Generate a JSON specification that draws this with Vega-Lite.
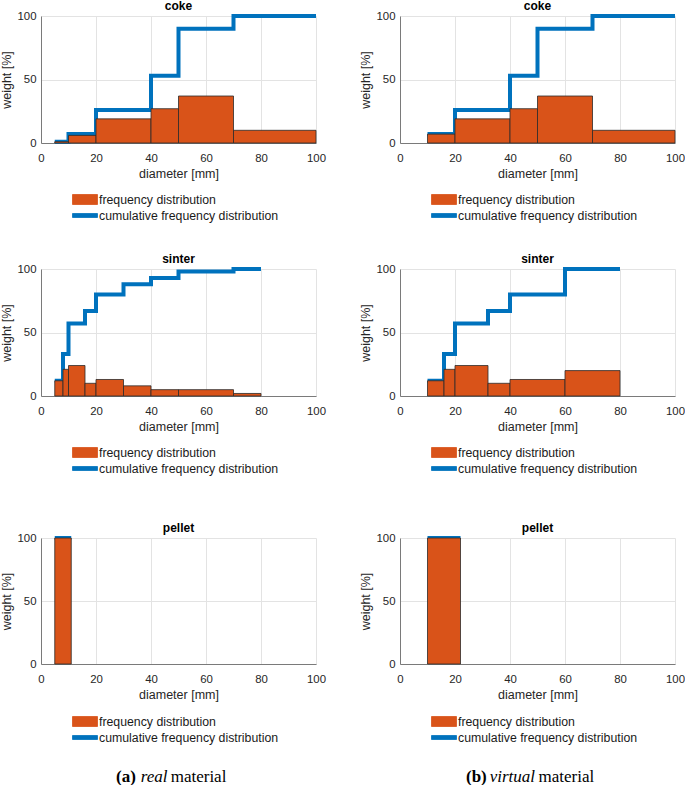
{
  "$schema": "https://vega.github.io/schema/vega-lite/v6.json",
  "padding": {"left": 0, "top": 0, "right": 0, "bottom": 0},
  "background": "white",
  "datasets": {
    "bins": [
      {"material": "coke", "kind": "real", "lo": 5, "hi": 10, "w": 1},
      {"material": "coke", "kind": "real", "lo": 10, "hi": 20, "w": 6},
      {"material": "coke", "kind": "real", "lo": 20, "hi": 40, "w": 19},
      {"material": "coke", "kind": "real", "lo": 40, "hi": 50, "w": 27},
      {"material": "coke", "kind": "real", "lo": 50, "hi": 70, "w": 37},
      {"material": "coke", "kind": "real", "lo": 70, "hi": 100, "w": 10},
      {"material": "coke", "kind": "virtual", "lo": 10, "hi": 20, "w": 7},
      {"material": "coke", "kind": "virtual", "lo": 20, "hi": 40, "w": 19},
      {"material": "coke", "kind": "virtual", "lo": 40, "hi": 50, "w": 27},
      {"material": "coke", "kind": "virtual", "lo": 50, "hi": 70, "w": 37},
      {"material": "coke", "kind": "virtual", "lo": 70, "hi": 100, "w": 10},
      {"material": "sinter", "kind": "real", "lo": 5, "hi": 8, "w": 12},
      {"material": "sinter", "kind": "real", "lo": 8, "hi": 10, "w": 21},
      {"material": "sinter", "kind": "real", "lo": 10, "hi": 16, "w": 24},
      {"material": "sinter", "kind": "real", "lo": 16, "hi": 20, "w": 10},
      {"material": "sinter", "kind": "real", "lo": 20, "hi": 30, "w": 13},
      {"material": "sinter", "kind": "real", "lo": 30, "hi": 40, "w": 8},
      {"material": "sinter", "kind": "real", "lo": 40, "hi": 50, "w": 5},
      {"material": "sinter", "kind": "real", "lo": 50, "hi": 70, "w": 5},
      {"material": "sinter", "kind": "real", "lo": 70, "hi": 80, "w": 2},
      {"material": "sinter", "kind": "virtual", "lo": 10, "hi": 16, "w": 12},
      {"material": "sinter", "kind": "virtual", "lo": 16, "hi": 20, "w": 21},
      {"material": "sinter", "kind": "virtual", "lo": 20, "hi": 32, "w": 24},
      {"material": "sinter", "kind": "virtual", "lo": 32, "hi": 40, "w": 10},
      {"material": "sinter", "kind": "virtual", "lo": 40, "hi": 60, "w": 13},
      {"material": "sinter", "kind": "virtual", "lo": 60, "hi": 80, "w": 20},
      {"material": "pellet", "kind": "real", "lo": 5, "hi": 11, "w": 100},
      {"material": "pellet", "kind": "virtual", "lo": 10, "hi": 22, "w": 100}
    ],
    "cum": [
      {"material": "coke", "kind": "real", "d": 5, "c": 1},
      {"material": "coke", "kind": "real", "d": 10, "c": 7},
      {"material": "coke", "kind": "real", "d": 20, "c": 26},
      {"material": "coke", "kind": "real", "d": 40, "c": 53},
      {"material": "coke", "kind": "real", "d": 50, "c": 90},
      {"material": "coke", "kind": "real", "d": 70, "c": 100},
      {"material": "coke", "kind": "real", "d": 100, "c": 100},
      {"material": "coke", "kind": "virtual", "d": 10, "c": 7},
      {"material": "coke", "kind": "virtual", "d": 20, "c": 26},
      {"material": "coke", "kind": "virtual", "d": 40, "c": 53},
      {"material": "coke", "kind": "virtual", "d": 50, "c": 90},
      {"material": "coke", "kind": "virtual", "d": 70, "c": 100},
      {"material": "coke", "kind": "virtual", "d": 100, "c": 100},
      {"material": "sinter", "kind": "real", "d": 5, "c": 12},
      {"material": "sinter", "kind": "real", "d": 8, "c": 33},
      {"material": "sinter", "kind": "real", "d": 10, "c": 57},
      {"material": "sinter", "kind": "real", "d": 16, "c": 67},
      {"material": "sinter", "kind": "real", "d": 20, "c": 80},
      {"material": "sinter", "kind": "real", "d": 30, "c": 88},
      {"material": "sinter", "kind": "real", "d": 40, "c": 93},
      {"material": "sinter", "kind": "real", "d": 50, "c": 98},
      {"material": "sinter", "kind": "real", "d": 70, "c": 100},
      {"material": "sinter", "kind": "real", "d": 80, "c": 100},
      {"material": "sinter", "kind": "virtual", "d": 10, "c": 12},
      {"material": "sinter", "kind": "virtual", "d": 16, "c": 33},
      {"material": "sinter", "kind": "virtual", "d": 20, "c": 57},
      {"material": "sinter", "kind": "virtual", "d": 32, "c": 67},
      {"material": "sinter", "kind": "virtual", "d": 40, "c": 80},
      {"material": "sinter", "kind": "virtual", "d": 60, "c": 100},
      {"material": "sinter", "kind": "virtual", "d": 80, "c": 100},
      {"material": "pellet", "kind": "real", "d": 5, "c": 100},
      {"material": "pellet", "kind": "real", "d": 11, "c": 100},
      {"material": "pellet", "kind": "virtual", "d": 10, "c": 100},
      {"material": "pellet", "kind": "virtual", "d": 22, "c": 100}
    ]
  },
  "vconcat": [
    {
      "vconcat": [
        {
          "vconcat": [
            {
              "hconcat": [
                {
                  "width": 275, "height": 127, "title": "coke",
                  "layer": [
                    {"data": {"name": "cum"}, "transform": [{"filter": "datum.material === 'coke' && datum.kind === 'real'"}],
                     "mark": {"type": "line", "interpolate": "step-after", "strokeWidth": 4},
                     "encoding": {
                       "x": {"field": "d", "type": "quantitative", "scale": {"domain": [0, 100]}, "axis": {"values": [0, 20, 40, 60, 80, 100], "title": "diameter [mm]"}},
                       "y": {"field": "c", "type": "quantitative", "scale": {"domain": [0, 100]}, "axis": {"values": [0, 50, 100], "title": "weight [%]"}},
                       "color": {"datum": "cumulative frequency distribution", "type": "nominal", "scale": {"domain": ["frequency distribution", "cumulative frequency distribution"], "range": ["#D95319", "#0072BD"]},
                         "legend": {"orient": "none", "legendX": 35.5, "legendY": 175, "title": null, "direction": "vertical", "symbolSize": 256, "labelOffset": 5.5, "rowPadding": 0, "padding": 0,
                           "encode": {"symbols": {"update": {"shape": {"signal": "datum.value === 'frequency distribution' ? 'M-1.5625,-0.625H1.5625V0.625H-1.5625Z' : 'M-1.5625,-0.25H1.5625V0.25H-1.5625Z'"}, "fill": {"signal": "datum.value === 'frequency distribution' ? '#D95319' : '#0072BD'"}, "stroke": {"signal": "datum.value === 'frequency distribution' ? '#333333' : '#0072BD'"}, "strokeWidth": {"value": 0.8}, "opacity": {"value": 1}}}}}}
                     }},
                    {"data": {"name": "bins"}, "transform": [{"filter": "datum.material === 'coke' && datum.kind === 'real'"}],
                     "mark": {"type": "rect", "stroke": "#2b2b2b", "strokeWidth": 0.8},
                     "encoding": {"x": {"field": "lo", "type": "quantitative"}, "x2": {"field": "hi"}, "y": {"field": "w", "type": "quantitative"}, "y2": {"datum": 0}, "color": {"datum": "frequency distribution", "type": "nominal"}}}
                  ]
                },
                {
                  "width": 275, "height": 127, "title": "coke",
                  "layer": [
                    {"data": {"name": "cum"}, "transform": [{"filter": "datum.material === 'coke' && datum.kind === 'virtual'"}],
                     "mark": {"type": "line", "interpolate": "step-after", "strokeWidth": 4},
                     "encoding": {
                       "x": {"field": "d", "type": "quantitative", "scale": {"domain": [0, 100]}, "axis": {"values": [0, 20, 40, 60, 80, 100], "title": "diameter [mm]"}},
                       "y": {"field": "c", "type": "quantitative", "scale": {"domain": [0, 100]}, "axis": {"values": [0, 50, 100], "title": "weight [%]"}},
                       "color": {"datum": "cumulative frequency distribution", "type": "nominal", "scale": {"domain": ["frequency distribution", "cumulative frequency distribution"], "range": ["#D95319", "#0072BD"]},
                         "legend": {"orient": "none", "legendX": 35.5, "legendY": 175, "title": null, "direction": "vertical", "symbolSize": 256, "labelOffset": 5.5, "rowPadding": 0, "padding": 0,
                           "encode": {"symbols": {"update": {"shape": {"signal": "datum.value === 'frequency distribution' ? 'M-1.5625,-0.625H1.5625V0.625H-1.5625Z' : 'M-1.5625,-0.25H1.5625V0.25H-1.5625Z'"}, "fill": {"signal": "datum.value === 'frequency distribution' ? '#D95319' : '#0072BD'"}, "stroke": {"signal": "datum.value === 'frequency distribution' ? '#333333' : '#0072BD'"}, "strokeWidth": {"value": 0.8}, "opacity": {"value": 1}}}}}}
                     }},
                    {"data": {"name": "bins"}, "transform": [{"filter": "datum.material === 'coke' && datum.kind === 'virtual'"}],
                     "mark": {"type": "rect", "stroke": "#2b2b2b", "strokeWidth": 0.8},
                     "encoding": {"x": {"field": "lo", "type": "quantitative"}, "x2": {"field": "hi"}, "y": {"field": "w", "type": "quantitative"}, "y2": {"datum": 0}, "color": {"datum": "frequency distribution", "type": "nominal"}}}
                  ]
                }
              ],
              "spacing": 84, "bounds": "flush",
              "resolve": {"scale": {"color": "independent"}, "legend": {"color": "independent"}}
            },
            {
              "hconcat": [
                {
                  "width": 275, "height": 127, "title": "sinter",
                  "layer": [
                    {"data": {"name": "cum"}, "transform": [{"filter": "datum.material === 'sinter' && datum.kind === 'real'"}],
                     "mark": {"type": "line", "interpolate": "step-after", "strokeWidth": 4},
                     "encoding": {
                       "x": {"field": "d", "type": "quantitative", "scale": {"domain": [0, 100]}, "axis": {"values": [0, 20, 40, 60, 80, 100], "title": "diameter [mm]"}},
                       "y": {"field": "c", "type": "quantitative", "scale": {"domain": [0, 100]}, "axis": {"values": [0, 50, 100], "title": "weight [%]"}},
                       "color": {"datum": "cumulative frequency distribution", "type": "nominal", "scale": {"domain": ["frequency distribution", "cumulative frequency distribution"], "range": ["#D95319", "#0072BD"]},
                         "legend": {"orient": "none", "legendX": 35.5, "legendY": 175, "title": null, "direction": "vertical", "symbolSize": 256, "labelOffset": 5.5, "rowPadding": 0, "padding": 0,
                           "encode": {"symbols": {"update": {"shape": {"signal": "datum.value === 'frequency distribution' ? 'M-1.5625,-0.625H1.5625V0.625H-1.5625Z' : 'M-1.5625,-0.25H1.5625V0.25H-1.5625Z'"}, "fill": {"signal": "datum.value === 'frequency distribution' ? '#D95319' : '#0072BD'"}, "stroke": {"signal": "datum.value === 'frequency distribution' ? '#333333' : '#0072BD'"}, "strokeWidth": {"value": 0.8}, "opacity": {"value": 1}}}}}}
                     }},
                    {"data": {"name": "bins"}, "transform": [{"filter": "datum.material === 'sinter' && datum.kind === 'real'"}],
                     "mark": {"type": "rect", "stroke": "#2b2b2b", "strokeWidth": 0.8},
                     "encoding": {"x": {"field": "lo", "type": "quantitative"}, "x2": {"field": "hi"}, "y": {"field": "w", "type": "quantitative"}, "y2": {"datum": 0}, "color": {"datum": "frequency distribution", "type": "nominal"}}}
                  ]
                },
                {
                  "width": 275, "height": 127, "title": "sinter",
                  "layer": [
                    {"data": {"name": "cum"}, "transform": [{"filter": "datum.material === 'sinter' && datum.kind === 'virtual'"}],
                     "mark": {"type": "line", "interpolate": "step-after", "strokeWidth": 4},
                     "encoding": {
                       "x": {"field": "d", "type": "quantitative", "scale": {"domain": [0, 100]}, "axis": {"values": [0, 20, 40, 60, 80, 100], "title": "diameter [mm]"}},
                       "y": {"field": "c", "type": "quantitative", "scale": {"domain": [0, 100]}, "axis": {"values": [0, 50, 100], "title": "weight [%]"}},
                       "color": {"datum": "cumulative frequency distribution", "type": "nominal", "scale": {"domain": ["frequency distribution", "cumulative frequency distribution"], "range": ["#D95319", "#0072BD"]},
                         "legend": {"orient": "none", "legendX": 35.5, "legendY": 175, "title": null, "direction": "vertical", "symbolSize": 256, "labelOffset": 5.5, "rowPadding": 0, "padding": 0,
                           "encode": {"symbols": {"update": {"shape": {"signal": "datum.value === 'frequency distribution' ? 'M-1.5625,-0.625H1.5625V0.625H-1.5625Z' : 'M-1.5625,-0.25H1.5625V0.25H-1.5625Z'"}, "fill": {"signal": "datum.value === 'frequency distribution' ? '#D95319' : '#0072BD'"}, "stroke": {"signal": "datum.value === 'frequency distribution' ? '#333333' : '#0072BD'"}, "strokeWidth": {"value": 0.8}, "opacity": {"value": 1}}}}}}
                     }},
                    {"data": {"name": "bins"}, "transform": [{"filter": "datum.material === 'sinter' && datum.kind === 'virtual'"}],
                     "mark": {"type": "rect", "stroke": "#2b2b2b", "strokeWidth": 0.8},
                     "encoding": {"x": {"field": "lo", "type": "quantitative"}, "x2": {"field": "hi"}, "y": {"field": "w", "type": "quantitative"}, "y2": {"datum": 0}, "color": {"datum": "frequency distribution", "type": "nominal"}}}
                  ]
                }
              ],
              "spacing": 84, "bounds": "flush",
              "resolve": {"scale": {"color": "independent"}, "legend": {"color": "independent"}}
            }
          ],
          "spacing": 31,
          "resolve": {"scale": {"color": "independent"}, "legend": {"color": "independent"}}
        },
        {
          "hconcat": [
            {
              "width": 275, "height": 126, "title": "pellet",
              "layer": [
                {"data": {"name": "cum"}, "transform": [{"filter": "datum.material === 'pellet' && datum.kind === 'real'"}],
                 "mark": {"type": "line", "interpolate": "step-after", "strokeWidth": 4},
                 "encoding": {
                   "x": {"field": "d", "type": "quantitative", "scale": {"domain": [0, 100]}, "axis": {"values": [0, 20, 40, 60, 80, 100], "title": "diameter [mm]"}},
                   "y": {"field": "c", "type": "quantitative", "scale": {"domain": [0, 100]}, "axis": {"values": [0, 50, 100], "title": "weight [%]"}},
                   "color": {"datum": "cumulative frequency distribution", "type": "nominal", "scale": {"domain": ["frequency distribution", "cumulative frequency distribution"], "range": ["#D95319", "#0072BD"]},
                     "legend": {"orient": "none", "legendX": 35.5, "legendY": 175, "title": null, "direction": "vertical", "symbolSize": 256, "labelOffset": 5.5, "rowPadding": 0, "padding": 0,
                       "encode": {"symbols": {"update": {"shape": {"signal": "datum.value === 'frequency distribution' ? 'M-1.5625,-0.625H1.5625V0.625H-1.5625Z' : 'M-1.5625,-0.25H1.5625V0.25H-1.5625Z'"}, "fill": {"signal": "datum.value === 'frequency distribution' ? '#D95319' : '#0072BD'"}, "stroke": {"signal": "datum.value === 'frequency distribution' ? '#333333' : '#0072BD'"}, "strokeWidth": {"value": 0.8}, "opacity": {"value": 1}}}}}}
                 }},
                {"data": {"name": "bins"}, "transform": [{"filter": "datum.material === 'pellet' && datum.kind === 'real'"}],
                 "mark": {"type": "rect", "stroke": "#2b2b2b", "strokeWidth": 0.8},
                 "encoding": {"x": {"field": "lo", "type": "quantitative"}, "x2": {"field": "hi"}, "y": {"field": "w", "type": "quantitative"}, "y2": {"datum": 0}, "color": {"datum": "frequency distribution", "type": "nominal"}}}
              ]
            },
            {
              "width": 275, "height": 126, "title": "pellet",
              "layer": [
                {"data": {"name": "cum"}, "transform": [{"filter": "datum.material === 'pellet' && datum.kind === 'virtual'"}],
                 "mark": {"type": "line", "interpolate": "step-after", "strokeWidth": 4},
                 "encoding": {
                   "x": {"field": "d", "type": "quantitative", "scale": {"domain": [0, 100]}, "axis": {"values": [0, 20, 40, 60, 80, 100], "title": "diameter [mm]"}},
                   "y": {"field": "c", "type": "quantitative", "scale": {"domain": [0, 100]}, "axis": {"values": [0, 50, 100], "title": "weight [%]"}},
                   "color": {"datum": "cumulative frequency distribution", "type": "nominal", "scale": {"domain": ["frequency distribution", "cumulative frequency distribution"], "range": ["#D95319", "#0072BD"]},
                     "legend": {"orient": "none", "legendX": 35.5, "legendY": 175, "title": null, "direction": "vertical", "symbolSize": 256, "labelOffset": 5.5, "rowPadding": 0, "padding": 0,
                       "encode": {"symbols": {"update": {"shape": {"signal": "datum.value === 'frequency distribution' ? 'M-1.5625,-0.625H1.5625V0.625H-1.5625Z' : 'M-1.5625,-0.25H1.5625V0.25H-1.5625Z'"}, "fill": {"signal": "datum.value === 'frequency distribution' ? '#D95319' : '#0072BD'"}, "stroke": {"signal": "datum.value === 'frequency distribution' ? '#333333' : '#0072BD'"}, "strokeWidth": {"value": 0.8}, "opacity": {"value": 1}}}}}}
                 }},
                {"data": {"name": "bins"}, "transform": [{"filter": "datum.material === 'pellet' && datum.kind === 'virtual'"}],
                 "mark": {"type": "rect", "stroke": "#2b2b2b", "strokeWidth": 0.8},
                 "encoding": {"x": {"field": "lo", "type": "quantitative"}, "x2": {"field": "hi"}, "y": {"field": "w", "type": "quantitative"}, "y2": {"datum": 0}, "color": {"datum": "frequency distribution", "type": "nominal"}}}
              ]
            }
          ],
          "spacing": 84, "bounds": "flush",
          "resolve": {"scale": {"color": "independent"}, "legend": {"color": "independent"}}
        }
      ],
      "spacing": 47,
      "resolve": {"scale": {"color": "independent"}, "legend": {"color": "independent"}}
    },
    {
      "hconcat": [
        {
          "width": 275, "height": 18,
          "data": {"values": [{"tag": "(a)", "adj": "real", "noun": "material"}]},
          "encoding": {"x": {"datum": 50, "type": "quantitative", "scale": {"domain": [0, 100]}, "axis": null}},
          "layer": [
            {"mark": {"type": "text", "align": "left", "baseline": "middle", "dx": -62.5, "font": "Liberation Serif", "fontSize": 17, "fontWeight": "bold", "color": "#000000"}, "encoding": {"text": {"field": "tag"}}},
            {"mark": {"type": "text", "align": "left", "baseline": "middle", "dx": -37.8, "font": "Liberation Serif", "fontSize": 17, "fontStyle": "italic", "color": "#000000"}, "encoding": {"text": {"field": "adj"}}},
            {"mark": {"type": "text", "align": "left", "baseline": "middle", "dx": -7.8, "font": "Liberation Serif", "fontSize": 17, "color": "#000000"}, "encoding": {"text": {"field": "noun"}}}
          ]
        },
        {
          "width": 275, "height": 18,
          "data": {"values": [{"tag": "(b)", "adj": "virtual", "noun": "material"}]},
          "encoding": {"x": {"datum": 50, "type": "quantitative", "scale": {"domain": [0, 100]}, "axis": null}},
          "layer": [
            {"mark": {"type": "text", "align": "left", "baseline": "middle", "dx": -71.5, "font": "Liberation Serif", "fontSize": 17, "fontWeight": "bold", "color": "#000000"}, "encoding": {"text": {"field": "tag"}}},
            {"mark": {"type": "text", "align": "left", "baseline": "middle", "dx": -47.8, "font": "Liberation Serif", "fontSize": 17, "fontStyle": "italic", "color": "#000000"}, "encoding": {"text": {"field": "adj"}}},
            {"mark": {"type": "text", "align": "left", "baseline": "middle", "dx": 1, "font": "Liberation Serif", "fontSize": 17, "color": "#000000"}, "encoding": {"text": {"field": "noun"}}}
          ]
        }
      ],
      "spacing": 84, "bounds": "flush"
    }
  ],
  "spacing": 24,
  "resolve": {"scale": {"color": "independent"}, "legend": {"color": "independent"}},
  "config": {
    "view": {"stroke": null},
    "font": "Liberation Sans",
    "title": {"font": "Liberation Sans", "fontSize": 12, "fontWeight": "bold", "color": "#000000", "offset": -5, "baseline": "alphabetic", "frame": "group", "anchor": "middle"},
    "axis": {
      "labelFont": "Liberation Sans", "labelFontSize": 11.4, "labelColor": "#262626", "labelFlush": false,
      "titleFont": "Liberation Sans", "titleFontSize": 12.5, "titleFontWeight": "normal", "titleColor": "#262626",
      "grid": true, "gridColor": "#e3e3e3", "gridWidth": 1,
      "domainColor": "#7a7a7a", "domainWidth": 1, "ticks": false
    },
    "axisX": {"labelPadding": 9, "titlePadding": 4},
    "axisY": {"labelPadding": 5, "titlePadding": 3},
    "legend": {"labelFont": "Liberation Sans", "labelFontSize": 12.3, "labelColor": "#1a1a1a", "labelLimit": 400}
  }
}
